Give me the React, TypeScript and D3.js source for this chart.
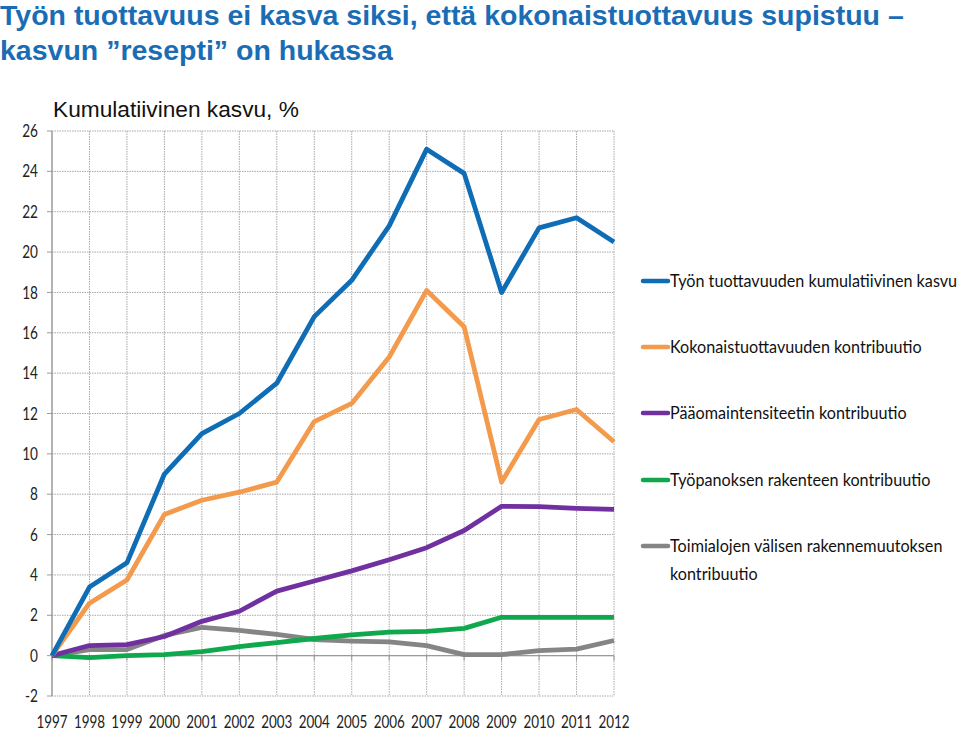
import React from "react";
import * as d3 from "d3";

const years = [1997, 1998, 1999, 2000, 2001, 2002, 2003, 2004, 2005, 2006, 2007, 2008, 2009, 2010, 2011, 2012];
const laborProductivity = [0, 3.4, 4.6, 9.0, 11.0, 12.0, 13.5, 16.8, 18.6, 21.3, 25.1, 23.9, 18.0, 21.2, 21.7, 20.5];
const tfpContribution = [0, 2.6, 3.75, 7.0, 7.7, 8.1, 8.6, 11.6, 12.5, 14.8, 18.1, 16.3, 8.6, 11.7, 12.2, 10.6];
const capitalIntensity = [0, 0.5, 0.55, 0.95, 1.7, 2.2, 3.2, 3.7, 4.2, 4.75, 5.35, 6.2, 7.4, 7.38, 7.3, 7.25];
const laborComposition = [0, -0.1, 0.0, 0.05, 0.2, 0.45, 0.65, 0.85, 1.03, 1.17, 1.2, 1.35, 1.9, 1.9, 1.9, 1.9];
const structuralChange = [0, 0.3, 0.3, 1.0, 1.4, 1.25, 1.05, 0.8, 0.72, 0.68, 0.5, 0.05, 0.05, 0.25, 0.32, 0.75];
const yTicks = [-2, 0, 2, 4, 6, 8, 10, 12, 14, 16, 18, 20, 22, 24, 26];

const seriesNames = [
  ["Työn tuottavuuden kumulatiivinen kasvu"],
  ["Kokonaistuottavuuden kontribuutio"],
  ["Pääomaintensiteetin kontribuutio"],
  ["Työpanoksen rakenteen kontribuutio"],
  ["Toimialojen välisen rakennemuutoksen", "kontribuutio"],
];
const seriesColors = ["#0f6db5", "#f39a4c", "#7030a0", "#10a84c", "#858585"];
const seriesValues = [laborProductivity, tfpContribution, capitalIntensity, laborComposition, structuralChange];
const legendY = [281, 347, 413, 480, 546];

const titleLines = [
  "Työn tuottavuus ei kasva siksi, että kokonaistuottavuus supistuu –",
  "kasvun ”resepti” on hukassa",
];
const subtitle = "Kumulatiivinen kasvu, %";

export default function App() {
  const x = d3.scaleLinear().domain([1997, 2012]).range([52, 614]);
  const y = d3.scaleLinear().domain([-2, 26]).range([696, 131]);
  const line = d3
    .line<number>()
    .x((_, i) => x(years[i]))
    .y((d) => y(d));
  const axisFont = "Lato, 'Open Sans', sans-serif";
  const titleFont = "'Liberation Sans', Arial, sans-serif";
  return (
    <div style={{ position: "absolute", left: 0, top: 0 }}>
      <svg width={959} height={730} style={{ display: "block", background: "#fff" }}>
        <text x={0} y={24.5} fontFamily={titleFont} fontWeight="bold" fontSize={28.5} fill="#1a6db5">
          {titleLines[0]}
        </text>
        <text x={0} y={59.5} fontFamily={titleFont} fontWeight="bold" fontSize={28.5} fill="#1a6db5">
          {titleLines[1]}
        </text>
        <text x={53} y={116.5} fontFamily={titleFont} fontSize={22.7} fill="#111">
          {subtitle}
        </text>
        {/* horizontal grid */}
        {yTicks.map((t) => (
          <line key={"h" + t} x1={x(1997)} x2={x(2012)} y1={y(t)} y2={y(t)} stroke="#a8a8a8" strokeWidth={1} strokeDasharray="1.5,1" />
        ))}
        {/* vertical grid */}
        {years.slice(1).map((yr) => (
          <line key={"v" + yr} x1={x(yr)} x2={x(yr)} y1={y(26)} y2={y(-2)} stroke="#a8a8a8" strokeWidth={1} strokeDasharray="1.5,1" />
        ))}
        {/* y axis */}
        <line x1={x(1997)} x2={x(1997)} y1={y(26)} y2={y(-2)} stroke="#9a9a9a" strokeWidth={1.5} />
        {yTicks.map((t) => (
          <g key={"yt" + t}>
            <line x1={x(1997) - 5} x2={x(1997)} y1={y(t)} y2={y(t)} stroke="#9a9a9a" strokeWidth={1} />
            <g transform={`translate(38,${y(t)}) scale(0.8,1)`}>
              <text x={0} y={0} dy="0.36em" textAnchor="end" fontFamily={axisFont} fontSize={17} fill="#222">
                {t}
              </text>
            </g>
          </g>
        ))}
        {/* x axis at zero */}
        <line x1={x(1997)} x2={x(2012)} y1={y(0)} y2={y(0)} stroke="#9a9a9a" strokeWidth={1.2} />
        {years.map((yr) => (
          <g key={"xt" + yr}>
            <line x1={x(yr)} x2={x(yr)} y1={y(0)} y2={y(0) + 5} stroke="#9a9a9a" strokeWidth={1} />
            <g transform={`translate(${x(yr)},728) scale(0.79,1)`}>
              <text x={0} y={0} textAnchor="middle" fontFamily={axisFont} fontSize={17} fill="#222">
                {yr}
              </text>
            </g>
          </g>
        ))}
        {/* series lines, drawn back to front */}
        {[4, 3, 2, 1, 0].map((i) => (
          <path key={"s" + i} d={line(seriesValues[i]) || ""} fill="none" stroke={seriesColors[i]} strokeWidth={4.8} strokeLinejoin="round" />
        ))}
        {/* legend */}
        {seriesNames.map((names, i) => (
          <g key={"lg" + i}>
            <line x1={643} x2={668} y1={legendY[i]} y2={legendY[i]} stroke={seriesColors[i]} strokeWidth={4.5} strokeLinecap="round" />
            {names.map((n, j) => (
              <g key={j} transform={`translate(670,${legendY[i] + 6 + j * 28}) scale(0.925,1)`}>
                <text x={0} y={0} fontFamily={axisFont} fontSize={17.5} fill="#111">
                  {n}
                </text>
              </g>
            ))}
          </g>
        ))}
      </svg>
    </div>
  );
}
